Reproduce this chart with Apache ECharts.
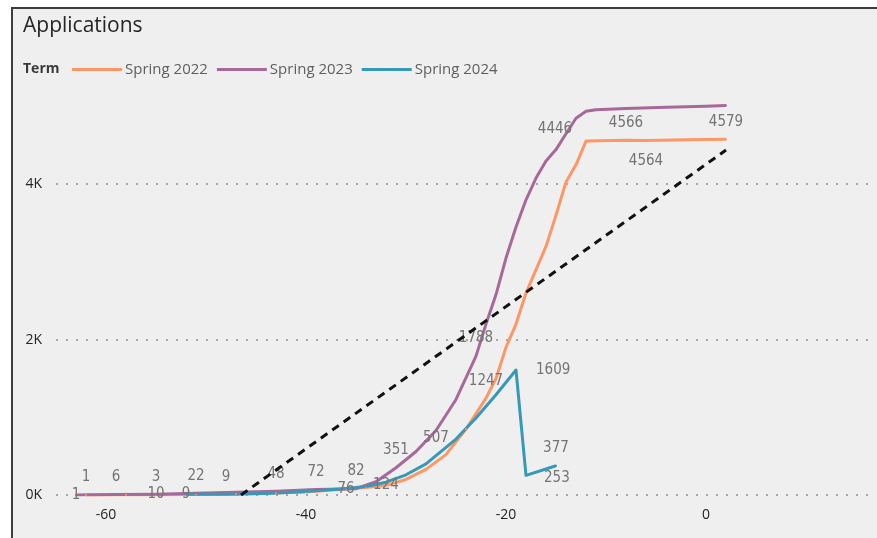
<!DOCTYPE html>
<html>
<head>
<meta charset="utf-8">
<script src="https://cdn.jsdelivr.net/npm/echarts@6/dist/echarts.min.js"></script>
<style>
  html, body { margin: 0; padding: 0; background: #fff; }
  #panel { position: absolute; left: 11px; top: 7px; width: 864px; height: 529px;
           background: #efefef; border-left: 2px solid #3c3c3c; border-top: 2px solid #3c3c3c; }
  #main { position: absolute; left: 0; top: 0; width: 877px; height: 538px; }
</style>
</head>
<body>
<div id="panel"></div>
<div id="main"></div>
<script>
// days relative to term start, cumulative applications
const days22 = [-62, -58, -55, -51, -47, -43, -40, -36, -34, -32, -30, -28, -26, -24, -22, -21, -20, -19, -18, -17, -16, -15, -14, -13, -12, -8, -6, -2, 2]
const apps22 = [1, 2, 3, 5, 12, 25, 40, 76, 95, 124, 200, 330, 520, 850, 1247, 1500, 1900, 2200, 2600, 2900, 3200, 3600, 4030, 4250, 4555, 4566, 4564, 4572, 4579]

const days23 = [-63, -59, -55, -51, -47, -43, -39, -35, -33, -31, -29, -27, -25, -23, -22, -21, -20, -19, -18, -17, -16, -15, -14, -13, -12, -11, -8, -4, 0, 2]
const apps23 = [1, 6, 10, 22, 35, 48, 72, 82, 170, 351, 560, 830, 1230, 1788, 2200, 2580, 3050, 3450, 3800, 4080, 4300, 4446, 4650, 4850, 4940, 4960, 4975, 4990, 5005, 5012]

const days24 = [-52, -48, -44, -40, -36, -34, -32, -30, -28, -27, -25, -23, -21, -19, -18, -15]
const apps24 = [9, 9, 20, 45, 85, 110, 165, 260, 400, 507, 720, 990, 1290, 1609, 253, 377]

// dashed reference line
const trendDays = [-46.5, 2]
const trendApps = [0, 4440]

const terms = ["Spring 2022", "Spring 2023", "Spring 2024"]
const yTicks = [0, 2000, 4000]
const xTicks = [-60, -40, -20, 0]

const TOP = { position: "top", distance: 9 }
const MID = { position: "inside" }
const BELOW = { position: "bottom", distance: 12 }

const labels22 = { "-62": TOP, "-55": TOP, "-36": MID, "-32": MID, "-22": TOP, "-8": TOP, "-6": BELOW, "2": TOP }
const labels23 = { "-63": MID, "-59": TOP, "-55": MID, "-51": TOP, "-43": TOP, "-39": TOP, "-35": TOP, "-31": TOP, "-23": TOP,
  "-15": { position: "top", distance: 12, offset: [-1, 0] } }
const labels24 = { "-52": MID, "-48": TOP, "-27": TOP, "-15": TOP,
  "-19": { position: "right", distance: 19 },
  "-18": { position: "right", distance: 17, offset: [0, 3] } }

function build(days, vals, labels) {
  return days.map((d, i) => {
    const item = { value: [d, vals[i]] }
    const l = labels[String(d)]
    if (l) item.label = Object.assign({ show: true }, l)
    return item
  })
}

const labelStyle = {
  show: false,
  color: "#747474",
  fontFamily: "DejaVu Sans Condensed",
  fontSize: 15,
  formatter: (p) => p.value[1],
}

function lineSeries(name, color, data) {
  return {
    name: name,
    type: "line",
    data: data,
    symbol: "circle",
    symbolSize: 2,
    showSymbol: true,
    showAllSymbol: true,
    itemStyle: { color: color },
    lineStyle: { color: color, width: 3, join: "round" },
    label: labelStyle,
    emphasis: { disabled: true },
  }
}

var chart = echarts.init(document.getElementById("main"))
chart.setOption({
  animation: false,
  color: ["#FE9666", "#A66999", "#3599B8"],
  title: [
    { text: "Applications", left: 18, top: 11,
      textStyle: { fontFamily: "Open Sans", fontSize: 21, fontWeight: "normal", color: "#252423" } },
    { text: "Term", left: 18, top: 57,
      textStyle: { fontFamily: "Open Sans", fontSize: 14, fontWeight: "bold", color: "#3a3a3a" } },
  ],
  legend: {
    data: terms,
    left: 67,
    top: 57,
    icon: "rect",
    itemWidth: 50,
    itemHeight: 3,
    itemGap: 9,
    textStyle: { fontFamily: "Open Sans", fontSize: 15, color: "#605e5c", padding: [0, 0, 0, -2] },
  },
  grid: { left: 56, right: 1, top: 91, bottom: 43, outerBoundsMode: "none" },
  xAxis: {
    type: "value",
    min: -65,
    max: 17,
    axisLine: { show: false },
    axisTick: { show: false },
    splitLine: { show: false },
    axisLabel: {
      customValues: xTicks,
      color: "#252423",
      fontFamily: "Open Sans",
      fontSize: 14,
      margin: 13,
    },
  },
  yAxis: {
    type: "value",
    min: 0,
    max: 5200,
    interval: 2000,
    axisLine: { show: false },
    axisTick: { show: false },
    axisLabel: {
      color: "#252423",
      fontFamily: "Open Sans",
      fontSize: 14,
      margin: 14,
      formatter: (v) => (yTicks.includes(v) ? v / 1000 + "K" : ""),
    },
    splitLine: {
      show: true,
      showMaxLine: false,
      lineStyle: { type: [2, 8], color: "#8f8f8f", width: 1.6 },
    },
  },
  series: [
    lineSeries(terms[0], "#FE9666", build(days22, apps22, labels22)),
    lineSeries(terms[1], "#A66999", build(days23, apps23, labels23)),
    lineSeries(terms[2], "#3599B8", build(days24, apps24, labels24)),
    {
      name: "Trend",
      type: "line",
      data: trendDays.map((d, i) => [d, trendApps[i]]),
      symbol: "none",
      lineStyle: { color: "#111", width: 3, type: [8, 6] },
      z: 5,
      emphasis: { disabled: true },
    },
  ],
})
window.addEventListener("resize", () => chart.resize())
</script>
</body>
</html>
